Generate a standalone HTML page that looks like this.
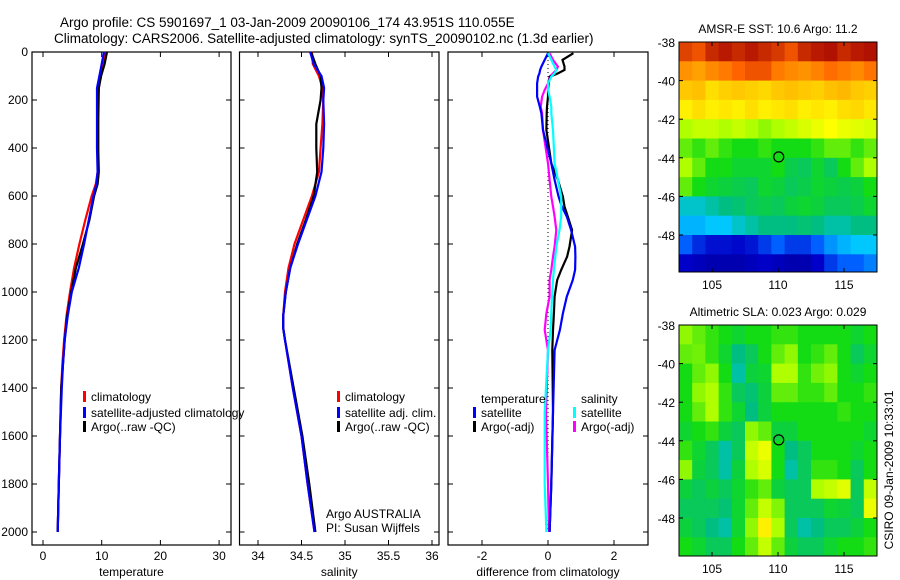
<!DOCTYPE html>
<html><head><meta charset="utf-8"><style>
html,body{margin:0;padding:0;background:#fff;}
svg{display:block;font-family:"Liberation Sans",sans-serif;}
</style></head><body>
<svg id="chart" width="900" height="580" viewBox="0 0 900 580">
<text x="60" y="27" font-size="13.5">Argo profile: CS 5901697_1 03-Jan-2009 20090106_174 43.951S 110.055E</text>
<text x="54" y="43" font-size="13.5">Climatology: CARS2006. Satellite-adjusted climatology: synTS_20090102.nc (1.3d earlier)</text>
<g id="layer"></g>
</svg>
<script>
const depthTicks=[0,200,400,600,800,1000,1200,1400,1600,1800,2000];
const tempTicks=[0,10,20,30];
const salTicks=[34,34.5,35,35.5,36];
const salTickLabels=["34","34.5","35","35.5","36"];
const diffTicks=[-2,0,2];
const tempDepth=[0,50,100,150,200,300,400,500,550,600,700,800,900,1000,1100,1200,1300,1400,1600,1800,2000];
const tempClim=[10.6,10.2,9.8,9.5,9.5,9.4,9.4,9.3,9.0,8.3,7.2,6.2,5.3,4.6,4.0,3.6,3.3,3.1,2.9,2.7,2.5];
const tempSat=[10.4,10.0,9.6,9.2,9.2,9.2,9.2,9.3,9.1,8.6,7.8,7.0,6.1,4.9,4.2,3.7,3.4,3.2,2.9,2.7,2.5];
const tempArgo=[10.9,10.5,9.9,9.5,9.4,9.4,9.4,9.5,9.3,8.7,7.9,6.8,5.6,4.8,4.1,3.7,3.4,3.1,2.9,2.7,2.5];
const salDepth=[0,50,100,150,200,300,400,500,600,700,800,900,1000,1100,1150,1200,1400,1600,1800,2000];
const salClim=[34.62,34.63,34.70,34.74,34.75,34.74,34.72,34.70,34.62,34.52,34.42,34.35,34.31,34.29,34.29,34.31,34.40,34.50,34.57,34.65];
const salSat=[34.60,34.64,34.73,34.76,34.75,34.76,34.75,34.73,34.66,34.56,34.46,34.37,34.32,34.29,34.29,34.31,34.40,34.50,34.57,34.65];
const salArgo=[34.61,34.66,34.72,34.73,34.72,34.67,34.67,34.68,34.64,34.55,34.45,34.37,34.32,34.29,34.29,34.31,34.41,34.51,34.59,34.66];
const diffDepth=[5,33,61,75,89,103,131,158,186,228,256,325,464,533,603,644,686,742,811,853,908,950,1019,1089,1158,1242,1500,1800,2000];
const diffTempSat=[0,-0.1,-0.2,-0.24,-0.26,-0.3,-0.33,-0.33,-0.33,-0.25,-0.2,-0.15,0.1,0.2,0.32,0.42,0.57,0.7,0.82,0.83,0.82,0.75,0.57,0.45,0.36,0.2,0.15,0.1,0.05];
const diffTempArgo=[0.77,0.44,0.5,0.5,0.3,0.06,0.02,0,0,-0.03,-0.04,-0.05,0.1,0.3,0.45,0.5,0.6,0.73,0.65,0.58,0.4,0.28,0.2,0.18,0.15,0.13,0.15,0.1,0.05];
const diffSalSat=[0,0.1,0.2,0.25,0.2,0.1,0,0,0.05,0.1,0.1,0.15,0.2,0.3,0.4,0.4,0.4,0.35,0.25,0.22,0.18,0.15,0.12,0.1,0.08,0,-0.1,-0.1,-0.05];
const diffSalArgo=[0.05,0.15,0.3,0.25,0.15,0.05,0,-0.1,-0.18,-0.22,-0.18,-0.15,0,0.05,0.1,0.15,0.2,0.25,0.2,0.15,0.1,0.05,0.05,-0.05,-0.1,0,-0.06,0,0.03];
const lonTicks=[105,110,115];
const latTicks=[-38,-40,-42,-44,-46,-48];
const gridLon0=102.5;
const gridLat0=-38;
const sstGrid=[
[0.92,0.9,0.95,0.97,0.95,0.97,0.95,0.93,0.9,0.95,0.97,0.98,0.95,0.97,0.98],
[0.82,0.8,0.83,0.85,0.88,0.9,0.9,0.85,0.83,0.82,0.84,0.87,0.85,0.83,0.86],
[0.75,0.76,0.72,0.74,0.75,0.74,0.73,0.75,0.76,0.75,0.74,0.76,0.77,0.75,0.74],
[0.7,0.72,0.7,0.71,0.7,0.72,0.7,0.71,0.72,0.7,0.71,0.7,0.72,0.73,0.71],
[0.6,0.62,0.62,0.6,0.62,0.6,0.58,0.6,0.62,0.64,0.66,0.68,0.66,0.65,0.64],
[0.55,0.52,0.55,0.52,0.5,0.5,0.52,0.5,0.5,0.5,0.52,0.55,0.55,0.52,0.55],
[0.6,0.55,0.5,0.5,0.48,0.48,0.48,0.5,0.46,0.45,0.48,0.45,0.5,0.55,0.6],
[0.55,0.5,0.48,0.47,0.46,0.45,0.48,0.47,0.45,0.46,0.48,0.47,0.46,0.47,0.5],
[0.38,0.38,0.4,0.42,0.43,0.45,0.46,0.45,0.47,0.48,0.47,0.45,0.45,0.46,0.48],
[0.33,0.33,0.35,0.35,0.38,0.4,0.42,0.42,0.42,0.43,0.42,0.4,0.4,0.42,0.42],
[0.25,0.18,0.14,0.14,0.13,0.15,0.2,0.25,0.2,0.2,0.25,0.3,0.33,0.35,0.35],
[0.12,0.1,0.08,0.08,0.08,0.1,0.12,0.1,0.08,0.08,0.12,0.2,0.25,0.25,0.28]];
const slaGrid=[
[0.58,0.55,0.52,0.5,0.48,0.5,0.5,0.52,0.52,0.5,0.5,0.5,0.5,0.48,0.5],
[0.55,0.56,0.52,0.48,0.42,0.45,0.5,0.55,0.58,0.5,0.52,0.55,0.5,0.45,0.48],
[0.5,0.55,0.58,0.5,0.4,0.47,0.48,0.6,0.6,0.52,0.56,0.58,0.5,0.48,0.5],
[0.5,0.58,0.6,0.52,0.45,0.43,0.47,0.55,0.55,0.52,0.52,0.55,0.5,0.5,0.52],
[0.5,0.55,0.6,0.52,0.48,0.42,0.47,0.5,0.5,0.5,0.5,0.5,0.52,0.5,0.5],
[0.48,0.5,0.52,0.47,0.45,0.58,0.55,0.47,0.47,0.5,0.5,0.5,0.5,0.5,0.48],
[0.52,0.48,0.45,0.4,0.45,0.62,0.66,0.5,0.42,0.45,0.5,0.5,0.5,0.48,0.5],
[0.58,0.47,0.45,0.4,0.47,0.6,0.64,0.5,0.4,0.45,0.52,0.52,0.5,0.45,0.5],
[0.47,0.45,0.47,0.45,0.48,0.52,0.55,0.47,0.45,0.45,0.6,0.62,0.65,0.45,0.62],
[0.45,0.45,0.45,0.43,0.48,0.55,0.62,0.57,0.45,0.45,0.45,0.48,0.47,0.45,0.66],
[0.47,0.45,0.42,0.4,0.48,0.58,0.7,0.6,0.45,0.4,0.42,0.45,0.45,0.47,0.5],
[0.5,0.48,0.45,0.45,0.5,0.55,0.62,0.55,0.47,0.45,0.45,0.48,0.5,0.5,0.52]];
const argoLon=110.055;
const argoLat=-43.951;

const NS='http://www.w3.org/2000/svg';
const layer=document.getElementById('layer');
function mk(tag,attrs,parent){const e=document.createElementNS(NS,tag);for(const k in attrs)e.setAttribute(k,attrs[k]);(parent||layer).appendChild(e);return e;}
function txt(x,y,s,anchor,size){const t=mk('text',{x:x,y:y,'font-size':size||12,'text-anchor':anchor||'start'});t.textContent=s;return t;}

const pTop=52,pBottom=545;
const yD=d=>52+d*0.24;
const panels=[
 {name:'temperature',l:32,r:231,x:v=>43+v*5.87,ticks:tempTicks,labels:tempTicks.map(String),label:'temperature'},
 {name:'salinity',l:239.5,r:439,x:v=>258+(v-34)*87,ticks:salTicks,labels:salTickLabels,label:'salinity'},
 {name:'difference',l:448,r:648,x:v=>548+v*33,ticks:diffTicks,labels:diffTicks.map(String),label:'difference from climatology'}
];
panels.forEach((p,i)=>{
 const g=mk('g',{});
 
 
 const fr=mk('rect',{x:p.l,y:pTop,width:p.r-p.l,height:pBottom-pTop,fill:'none',stroke:'#000','stroke-width':1.2},g);
 
 
 depthTicks.forEach(d=>{
  const y=yD(d);
  mk('line',{x1:p.l,x2:p.l+5,y1:y,y2:y,stroke:'#000'},g);
  mk('line',{x1:p.r-5,x2:p.r,y1:y,y2:y,stroke:'#000'},g);
  if(i===0){const t=txt(p.l-4,y+4,String(d),'end');}
 });
 p.ticks.forEach((v,k)=>{
  const x=p.x(v);
  mk('line',{x1:x,x2:x,y1:pBottom,y2:pBottom-5,stroke:'#000'},g);
  mk('line',{x1:x,x2:x,y1:pTop,y2:pTop+5,stroke:'#000'},g);
  const t=txt(x,pBottom+15,p.labels[k],'middle');
  
  
 });
 const xl=txt((p.l+p.r)/2,pBottom+31,p.label,'middle');
 
 
});
function line(depths,vals,xf,color,name){
 const pts=depths.map((d,k)=>xf(vals[k]).toFixed(1)+','+yD(d).toFixed(1)).join(' ');
 const pl=mk('polyline',{points:pts,fill:'none',stroke:color,'stroke-width':2.2});
 
 
}
line(tempDepth,tempClim,panels[0].x,'#ff0000','temp-climatology-line');
line(tempDepth,tempArgo,panels[0].x,'#000','temp-argo-line');
line(tempDepth,tempSat,panels[0].x,'#0000ff','temp-satellite-line');
line(salDepth,salClim,panels[1].x,'#ff0000','sal-climatology-line');
line(salDepth,salArgo,panels[1].x,'#000','sal-argo-line');
line(salDepth,salSat,panels[1].x,'#0000ff','sal-satellite-line');
const zl=mk('line',{x1:panels[2].x(0),x2:panels[2].x(0),y1:yD(0),y2:yD(2000),stroke:'#000','stroke-dasharray':'1,3'});


line(diffDepth,diffSalArgo,panels[2].x,'#ff00ff','diff-sal-argo-line');
line(diffDepth,diffTempArgo,panels[2].x,'#000','diff-temp-argo-line');
line(diffDepth,diffTempSat,panels[2].x,'#0000ff','diff-temp-satellite-line');
line(diffDepth,diffSalSat,panels[2].x,'#00ffff','diff-sal-satellite-line');

function legend(x,y,color,label){
 const g=mk('g',{});
 
 
 mk('rect',{x:x,y:y-10,width:3,height:11,fill:color},g);
 const t=txt(x+8,y,label);g.appendChild(t);
}
legend(83,401,'#ff0000','climatology');
legend(83,417,'#0000ff','satellite-adjusted climatology');
legend(83,431,'#000','Argo(..raw -QC)');
legend(337,401,'#ff0000','climatology');
legend(337,417,'#0000ff','satellite adj. clim.');
legend(337,431,'#000','Argo(..raw -QC)');
let t;
t=txt(481,403,'temperature');
t=txt(581,403,'salinity');
legend(473,417,'#0000ff','satellite');
legend(473,431,'#000','Argo(-adj)');
legend(573,417,'#00ffff','satellite');
legend(573,431,'#ff00ff','Argo(-adj)');
t=txt(326,518,'Argo AUSTRALIA');
t=txt(326,532,'PI: Susan Wijffels');

const stops=[[0,[0,0,128]],[0.12,[0,0,200]],[0.25,[0,96,255]],[0.35,[0,200,255]],[0.42,[0,190,130]],[0.5,[20,220,20]],[0.6,[176,255,0]],[0.68,[255,255,0]],[0.78,[255,176,0]],[0.88,[255,100,0]],[1,[160,0,0]]];
function cmap(v){for(let i=1;i<stops.length;i++){if(v<=stops[i][0]){const a=stops[i-1],b=stops[i];const f=(v-a[0])/(b[0]-a[0]);return 'rgb('+a[1].map((c,k)=>Math.round(c+(b[1][k]-c)*f)).join(',')+')';}}return 'rgb(160,0,0)';}
function drawMap(name,title,grid,L,T,R,B){
 const g=mk('g',{});
 
 
 const lonX=lon=>L+(lon-102.5)*(R-L)/15;
 const latY=lat=>T+(-38-lat)*19.3;
 const cid='clip-'+name;
 const cp=mk('clipPath',{id:cid},g);mk('rect',{x:L,y:T,width:R-L,height:B-T},cp);
 const cg=mk('g',{'clip-path':'url(#'+cid+')'},g);
 grid.forEach((row,r)=>row.forEach((v,c)=>{
  const x0=lonX(gridLon0+c),x1=lonX(gridLon0+c+1),y0=latY(gridLat0-r),y1=latY(gridLat0-r-1);
  const cell=mk('rect',{x:x0,y:y0,width:x1-x0+0.5,height:y1-y0+0.5,fill:cmap(v)},cg);
  
  
 }));
 mk('rect',{x:L,y:T,width:R-L,height:B-T,fill:'none',stroke:'#000'},g);
 lonTicks.forEach(v=>{const x=lonX(v);mk('line',{x1:x,x2:x,y1:T,y2:T+4,stroke:'#000'},g);mk('line',{x1:x,x2:x,y1:B,y2:B-4,stroke:'#000'},g);const tt=txt(x,B+17,String(v),'middle');});
 latTicks.forEach(v=>{const y=latY(v);mk('line',{x1:L,x2:L+4,y1:y,y2:y,stroke:'#000'},g);mk('line',{x1:R,x2:R-4,y1:y,y2:y,stroke:'#000'},g);const tt=txt(L-4,y+5,String(v),'end');});
 const c=mk('circle',{cx:lonX(argoLon),cy:latY(argoLat),r:5,fill:'none',stroke:'#000','stroke-width':1.2},g);
 
 
 const tt=txt((L+R)/2,T-9,title,'middle');
 
 
}
drawMap('sst','AMSR-E SST: 10.6 Argo: 11.2',sstGrid,679,42,877,272);
drawMap('sla','Altimetric SLA: 0.023 Argo: 0.029',slaGrid,679,325,877,556);
t=txt(0,0,'CSIRO 09-Jan-2009 10:33:01','middle');
t.setAttribute('transform','translate(893,470) rotate(-90)');


</script>
</body></html>
